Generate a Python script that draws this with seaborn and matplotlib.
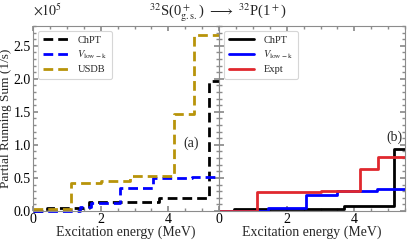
import numpy as np
import pandas as pd
import matplotlib
matplotlib.use("Agg")
import matplotlib.pyplot as plt
import seaborn as sns
from matplotlib.ticker import AutoMinorLocator, FuncFormatter

# ---- data ----
# left panel (a): dashed, theory
chpt_a_E = [0.0, 0.40, 1.0, 1.65, 2.5, 3.71, 5.20, 5.55]
chpt_a_V = [0.0, 0.04, 0.05, 0.13, 0.13, 0.19, 1.96, 1.96]
vlk_a_E = [0.0, 1.40, 1.70, 2.56, 3.56, 4.70, 5.55]
vlk_a_V = [0.0, 0.06, 0.12, 0.34, 0.50, 0.52, 0.52]
usdb_a_E = [0.0, 1.12, 2.00, 2.87, 4.16, 4.77, 5.55]
usdb_a_V = [0.03, 0.43, 0.45, 0.53, 1.46, 2.67, 2.67]

# right panel (b): solid
chpt_b_E = [0.0, 0.43, 3.70, 5.17, 5.55]
chpt_b_V = [0.0, 0.03, 0.07, 0.935, 0.935]
vlk_b_E = [0.0, 1.45, 2.56, 3.50, 4.68, 5.55]
vlk_b_V = [0.0, 0.05, 0.24, 0.30, 0.33, 0.33]
expt_b_E = [0.0, 1.13, 3.00, 4.18, 4.71, 5.55]
expt_b_V = [0.0, 0.29, 0.30, 0.63, 0.82, 0.82]

labels = ["ChPT", r"$V_{\rm low-k}$", "USDB", "Expt"]
y_ticks = [0.0, 0.5, 1.0, 1.5, 2.0, 2.5]
x_ticks = [0, 2, 4]
SCALE = 1e5

sns.set_theme(style="ticks")
plt.rcParams.update({
    "font.family": ["Liberation Serif", "DejaVu Serif"],
    "mathtext.fontset": "stix",
    "axes.edgecolor": "0.55",
    "xtick.color": "0.55",
    "ytick.color": "0.55",
    "xtick.labelcolor": "black",
    "ytick.labelcolor": "black",
    "xtick.direction": "in",
    "ytick.direction": "in",
    "axes.linewidth": 0.8,
})

FS = 10

fig = plt.figure(figsize=(4.08, 2.40), dpi=100)
axL = fig.add_axes([0.081, 0.121, 0.456, 0.771])
axR = fig.add_axes([0.537, 0.121, 0.456, 0.771], sharey=axL)

col_black = "black"
col_blue = "#0000ff"
col_olive = "#b8940a"
col_red = "#e0282e"

def stepline(ax, E, V, color, label, dashed):
    df = pd.DataFrame({"E": E, "V": np.array(V) * SCALE})
    kw = dict(drawstyle="steps-post", linewidth=2.0, estimator=None, sort=False)
    if dashed:
        sns.lineplot(data=df, x="E", y="V", ax=ax, color=color, label=label,
                     linestyle=(0, (3.5, 1.8)), **kw)
    else:
        sns.lineplot(data=df, x="E", y="V", ax=ax, color=color, label=label, **kw)

stepline(axL, chpt_a_E, chpt_a_V, col_black, labels[0], True)
stepline(axL, vlk_a_E, vlk_a_V, col_blue, labels[1], True)
stepline(axL, usdb_a_E, usdb_a_V, col_olive, labels[2], True)
for l in axL.get_lines():
    l.set_clip_on(False)

stepline(axR, chpt_b_E, chpt_b_V, col_black, labels[0], False)
stepline(axR, vlk_b_E, vlk_b_V, col_blue, labels[1], False)
stepline(axR, expt_b_E, expt_b_V, col_red, labels[3], False)

axL.set_xlim(0, 5.5)
axR.set_xlim(0, 5.5)
axL.set_ylim(0, 2.8e5)

for ax in (axL, axR):
    ax.set_xticks(x_ticks)
    ax.xaxis.set_minor_locator(AutoMinorLocator(4))
    ax.yaxis.set_minor_locator(AutoMinorLocator(5))
    ax.tick_params(which="both", top=True, right=True, labelsize=FS, pad=1.5)
    ax.tick_params(which="major", length=3.5)
    ax.tick_params(which="minor", length=2)
    ax.set_xlabel("Excitation energy (MeV)", fontsize=FS, labelpad=-0.5)
    ax.set_ylabel("")

axL.set_yticks([v * SCALE for v in y_ticks])
axL.yaxis.set_major_formatter(FuncFormatter(lambda v, p: f"{v / SCALE:.1f}"))
axR.tick_params(axis="y", labelleft=False)
axL.set_ylabel("Partial Running Sum (1/s)", fontsize=9.5, labelpad=1)
fig.text(0.081, 0.958, r"$\times10^{5}$", fontsize=FS, ha="left", va="center")

legkw = dict(loc="upper left", fontsize=7.5, frameon=True, handlelength=2.4,
             borderpad=0.45, labelspacing=0.35, handletextpad=0.9, fancybox=True)
lgL = axL.legend(**legkw)
lgR = axR.legend(**legkw)
for lg in (lgL, lgR):
    lg.get_frame().set_edgecolor("0.8")
    lg.get_frame().set_linewidth(0.8)

axL.text(4.68, 1.03e5, "(a)", fontsize=FS, ha="center", va="center")
axR.text(5.19, 1.12e5, "(b)", fontsize=FS, ha="center", va="center")

fig.text(0.535, 0.948, r"$^{32}$S(0$^+_{\rm g.s.}$) $\longrightarrow$ $^{32}$P(1$^+$)",
         fontsize=10.5, ha="center", va="center")

fig.savefig("out.png", dpi=100)
